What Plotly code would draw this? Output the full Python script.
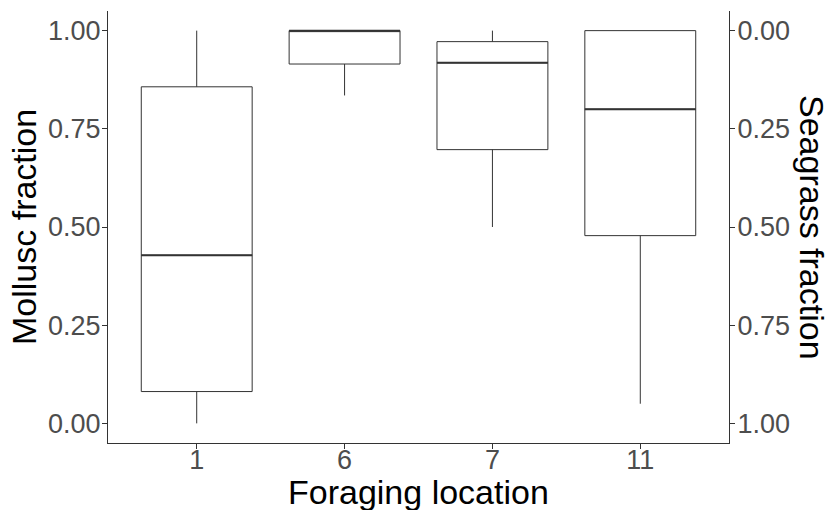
import plotly.graph_objects as go

# Data
locations = ["1", "6", "7", "11"]
lower_whisker = [0.00, 0.835, 0.50, 0.05]
q1_vals = [0.081, 0.915, 0.697, 0.478]
median_vals = [0.428, 1.00, 0.918, 0.80]
q3_vals = [0.857, 1.00, 0.972, 1.00]
upper_whisker = [1.00, 1.00, 1.00, 1.00]
tick_vals = [0.0, 0.25, 0.5, 0.75, 1.0]

pos = list(range(1, len(locations) + 1))
box_w = 0.75
line_col = "#333333"
tick_font = dict(family="Liberation Sans, Arial, sans-serif", size=27, color="#4D4D4D")
title_font = dict(family="Liberation Sans, Arial, sans-serif", size=34, color="black")

fig = go.Figure()
fig.add_trace(go.Box(
    x=pos, q1=q1_vals, median=median_vals, q3=q3_vals,
    lowerfence=lower_whisker, upperfence=upper_whisker,
    width=box_w, whiskerwidth=0, boxpoints=False,
    fillcolor="white", line=dict(color=line_col, width=1),
    showlegend=False, hoverinfo="skip",
))

# thicker median lines (ggplot style)
mx, my = [], []
for p, m in zip(pos, median_vals):
    mx += [p - box_w / 2, p + box_w / 2, None]
    my += [m, m, None]
fig.add_trace(go.Scatter(x=mx, y=my, mode="lines",
                         line=dict(color=line_col, width=2),
                         showlegend=False, hoverinfo="skip"))

# invisible trace bound to secondary (seagrass) axis
fig.add_trace(go.Scatter(x=pos, y=[1 - m for m in median_vals], yaxis="y2",
                         mode="markers", marker=dict(opacity=0),
                         showlegend=False, hoverinfo="skip"))

common = dict(showline=True, linecolor=line_col, linewidth=1,
              ticks="outside", ticklen=5, tickcolor=line_col, tickwidth=1,
              showgrid=False, zeroline=False, tickfont=tick_font)

fig.update_layout(
    width=829, height=510,
    margin=dict(l=108, r=100, t=11, b=67),
    paper_bgcolor="white", plot_bgcolor="white",
    xaxis=dict(range=[0.4, 4.6], tickvals=pos, ticktext=locations,
               ticklabelstandoff=-12, **common),
    yaxis=dict(range=[-0.05, 1.05], tickvals=tick_vals, tickformat=".2f",
               ticklabelstandoff=-4, **common),
    yaxis2=dict(range=[1.05, -0.05], tickvals=tick_vals, tickformat=".2f",
                overlaying="y", side="right", anchor="x",
                ticklabelstandoff=-3, **common),
    annotations=[
        dict(text="Mollusc fraction", xref="paper", yref="paper",
             x=(24 - 108) / 621, y=0.5, xanchor="center", yanchor="middle",
             textangle=-90, showarrow=False, font=title_font),
        dict(text="Seagrass fraction", xref="paper", yref="paper",
             x=(812 - 108) / 621, y=0.5, xanchor="center", yanchor="middle",
             textangle=90, showarrow=False, font=title_font),
        dict(text="Foraging location", xref="paper", yref="paper",
             x=0.5, y=-0.113, xanchor="center", yanchor="middle",
             showarrow=False, font=title_font),
    ],
)

fig.write_html("out.html")
